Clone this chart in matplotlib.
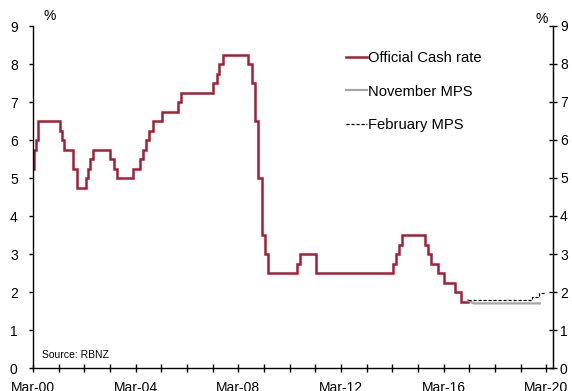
import matplotlib
matplotlib.use("Agg")
import matplotlib.pyplot as plt
import matplotlib.dates as mdates
import numpy as np
import pandas as pd

plt.rcParams['font.family'] = ['Liberation Sans', 'DejaVu Sans']

# Official Cash Rate: change dates and new rate (%)
ocr_dates = ["2000-03-01", "2000-03-15", "2000-04-19", "2000-05-17", "2001-03-14",
             "2001-04-19", "2001-05-16", "2001-09-19", "2001-11-14", "2002-03-20",
             "2002-04-17", "2002-05-22", "2002-07-03", "2003-03-06", "2003-04-24",
             "2003-06-05", "2004-01-29", "2004-04-29", "2004-06-10", "2004-07-29",
             "2004-09-09", "2004-10-28", "2005-03-10", "2005-10-27", "2005-12-08",
             "2007-03-08", "2007-04-26", "2007-06-07", "2007-07-26", "2008-07-24",
             "2008-09-11", "2008-10-23", "2008-12-04", "2009-01-29", "2009-03-12",
             "2009-04-30", "2010-06-10", "2010-07-29", "2011-03-17", "2014-03-13",
             "2014-04-24", "2014-06-12", "2014-07-24", "2015-06-11", "2015-07-23",
             "2015-09-10", "2015-12-10", "2016-03-10", "2016-08-11", "2016-11-10",
             "2017-02-10"]
ocr_values = [5.25, 5.75, 6.00, 6.50, 6.25,
              6.00, 5.75, 5.25, 4.75, 5.00,
              5.25, 5.50, 5.75, 5.50, 5.25,
              5.00, 5.25, 5.50, 5.75, 6.00,
              6.25, 6.50, 6.75, 7.00, 7.25,
              7.50, 7.75, 8.00, 8.25, 8.00,
              7.50, 6.50, 5.00, 3.50, 3.00,
              2.50, 2.75, 3.00, 2.50, 2.75,
              3.00, 3.25, 3.50, 3.25, 3.00,
              2.75, 2.50, 2.25, 2.00, 1.75,
              1.75]

# November MPS projection
nov_dates = ["2017-02-10", "2017-05-01", "2017-08-01", "2018-02-01", "2018-08-01",
             "2019-02-01", "2019-08-01", "2019-12-01"]
nov_values = [1.78, 1.70, 1.70, 1.70, 1.70, 1.70, 1.70, 1.70]

# February MPS projection
feb_dates = ["2017-02-10", "2017-06-01", "2018-03-01", "2018-09-01", "2019-03-01",
             "2019-08-15", "2019-11-15", "2020-02-15"]
feb_values = [1.78, 1.78, 1.78, 1.78, 1.78, 1.87, 1.97, 1.97]

fig = plt.figure(figsize=(5.72, 3.91), dpi=100)
W, H = 572, 391
ax = fig.add_axes([33 / W, (H - 368) / H, (553 - 33) / W, (368 - 26) / H])

red = '#A41E34'
ax.plot(pd.to_datetime(ocr_dates), ocr_values, drawstyle='steps-post',
        color=red, lw=1.8, label='Official Cash rate', solid_joinstyle='miter')
ax.plot(pd.to_datetime(nov_dates), nov_values, color='#A6A6A6', lw=1.6,
        label='November MPS')
ax.plot(pd.to_datetime(feb_dates), feb_values, drawstyle='steps-post',
        color='black', lw=0.9, ls=(0, (2.5, 1.5)), label='February MPS')

ax.set_ylim(0, 9)
ax.set_yticks(range(0, 10))
ax.set_xlim(pd.Timestamp("2000-03-01"), pd.Timestamp("2020-06-05"))
ax.xaxis.set_major_locator(mdates.YearLocator(1, month=3, day=1))

def fmt(x, pos):
    d = mdates.num2date(x)
    return d.strftime("Mar-%y") if d.year % 4 == 0 else ""

ax.xaxis.set_major_formatter(plt.FuncFormatter(fmt))

for s in ['top']:
    ax.spines[s].set_visible(False)
for s in ['left', 'bottom', 'right']:
    ax.spines[s].set_linewidth(1.0)
    ax.spines[s].set_color('black')

ax.tick_params(axis='x', direction='inout', length=6, width=1, labelsize=10, pad=6)
ax.tick_params(axis='y', direction='out', length=3, width=1, labelsize=10, pad=8)

ax2 = ax.twinx()
ax2.set_ylim(0, 9)
ax2.set_yticks(range(0, 10))
ax2.tick_params(axis='y', direction='inout', length=6, width=1, labelsize=10, pad=2)
for s in ['top', 'left', 'bottom']:
    ax2.spines[s].set_visible(False)

fig.text(43 / W, 1 - 16.5 / H, '%', fontsize=10, va='center', ha='left')
fig.text(536 / W, 1 - 19 / H, '%', fontsize=10, va='center', ha='left')
fig.text(42 / W, 1 - 355.5 / H, 'Source: RBNZ', fontsize=7.5, va='center', ha='left')

leg = ax.legend(loc='upper left', bbox_to_anchor=(346 / W, 1 - 51 / H),
                bbox_transform=fig.transFigure, frameon=False, fontsize=10.6,
                handlelength=1.4, handletextpad=0.12, labelspacing=1.33,
                borderaxespad=0, borderpad=0)

fig.savefig('out.png', dpi=100)
